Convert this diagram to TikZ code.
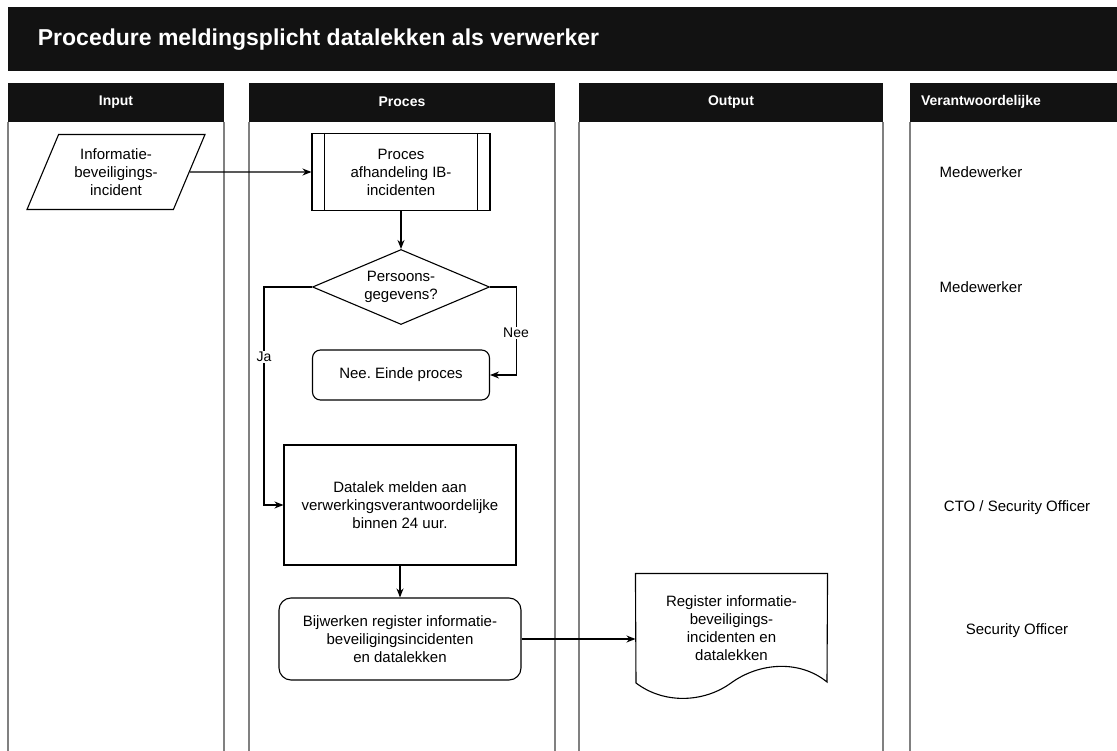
\documentclass[tikz,border=0pt]{standalone}
\usepackage{fontspec}
\setmainfont{Liberation Sans}
\usetikzlibrary{shapes.geometric,arrows.meta}

\begin{document}
\frenchspacing
\begin{tikzpicture}[x=1pt,y=-1pt,
    line width=1.1pt,
    >={Stealth[length=9pt,width=7pt]},
    box/.style={draw, align=center, inner sep=0pt, font=\fontsize{15}{18}\selectfont},
    rbox/.style={box, rounded corners=8pt},
    lanehead/.style={text=white, font=\bfseries\fontsize{14}{17}\selectfont},
    who/.style={font=\fontsize{15}{18}\selectfont},
    lbl/.style={fill=white, inner sep=1pt, font=\fontsize{14}{17}\selectfont}]

    \useasboundingbox (0,0) rectangle (1117,751);

    % title
    \fill[black!93] (8,7) rectangle (1117,71);
    \node[anchor=west, text=white, font=\bfseries\fontsize{23}{27}\selectfont] (title) at (34,40) {Procedure meldingsplicht datalekken als verwerker};

    % lanes
    \foreach \l/\r/\c/\t in {8/224/116/Input, 249/555/402/Proces, 579/883/731/Output, 910/1117/981/Verantwoordelijke} {
        \fill[black!93] (\l,83) rectangle (\r,122);
        \draw[gray, line width=2pt] (\l,122) -- (\l,751);
        \node[lanehead] (head-\t) at (\c,102) {\t};
    }
    \foreach \r in {224,555,883}
        \draw[gray, line width=2pt] (\r,122) -- (\r,751);

    % who
    \node[who] (who1) at (981,172) {Medewerker};
    \node[who] (who2) at (981,287) {Medewerker};
    \node[who] (who3) at (1017,508) {CTO / Security Officer};
    \node[who] (who4) at (1017,631) {Security Officer};

    % input
    \node[box, trapezium, trapezium stretches=true, trapezium left angle=64, trapezium right angle=116,
          minimum width=178, minimum height=75] (incident) at (116,172) {Informatie-\\beveiligings-\\incident};

    % proces
    \node[box, minimum width=178, minimum height=77] (ibproc) at (401,172) {Proces\\afhandeling IB-\\incidenten};
    \draw ([xshift=13pt]ibproc.north west) -- ([xshift=13pt]ibproc.south west);
    \draw ([xshift=-13pt]ibproc.north east) -- ([xshift=-13pt]ibproc.south east);

    \node[box, diamond, aspect=2.36, minimum width=177, minimum height=75] (pers) at (401,287) {Persoons-\\gegevens?};
    \node[rbox, minimum width=177, minimum height=50] (einde) at (401,375) {Nee. Einde proces};
    \node[box, minimum width=232, minimum height=120] (melden) at (400,505) {Datalek melden aan\\verwerkingsverantwoordelijke\\binnen 24 uur.};
    \node[rbox, rounded corners=12pt, minimum width=242, minimum height=82] (bijwerken) at (400,639) {Bijwerken register informatie-\\beveiligingsincidenten\\en datalekken};

    % output
    \node[align=center, inner sep=0pt, font=\fontsize{15}{18}\selectfont, minimum width=191, minimum height=108] (register) at (731.5,628) {Register informatie-\\beveiligings-\\incidenten en\\datalekken};
    \draw (register.north west) -- (register.north east) -- (827,682) .. controls (800,660) and (760,662) .. (731,683) .. controls (705,702) and (665,705) .. (636,683) -- cycle;

    % connectors
    \draw[->] (incident) -- (ibproc);
    \draw[->] (ibproc) -- (pers);
    \draw[->] (pers.east) -- ++(26,0) |- node[lbl, pos=0.26] {Nee} (einde.east);
    \draw[->] (pers.west) -- ++(-48,0) |- node[lbl, pos=0.16] {Ja} (melden.west);
    \draw[->] (melden) -- (bijwerken);
    \draw[->] (bijwerken.east) -- (bijwerken.east -| register.west);

\end{tikzpicture}
\end{document}
